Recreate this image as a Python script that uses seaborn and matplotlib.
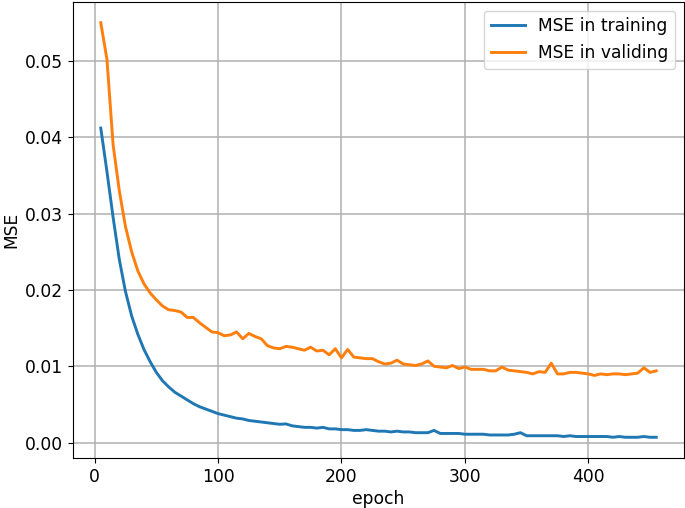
import numpy as np
import pandas as pd
import matplotlib
matplotlib.use("Agg")
import matplotlib.pyplot as plt
import seaborn as sns

plt.rcParams.update({
    "font.family": "DejaVu Sans",
    "font.size": 12.3,
    "axes.labelsize": 12.3,
    "xtick.labelsize": 12.3,
    "ytick.labelsize": 12.3,
    "legend.fontsize": 12.3,
})

EPOCHS = list(range(5, 460, 5))

MSE_TRAIN = [
    0.0412, 0.0355, 0.0295, 0.0240, 0.0198, 0.0166, 0.0142, 0.0122, 0.0106, 0.0092,
    0.0081, 0.0073, 0.0066, 0.0061, 0.0056, 0.0051, 0.0047, 0.0044, 0.0041, 0.0038,
    0.0036, 0.0034, 0.0032, 0.0031, 0.0029, 0.0028, 0.0027, 0.0026, 0.0025, 0.0024,
    0.00245, 0.0022, 0.0021, 0.0020, 0.0020, 0.0019, 0.0020, 0.0018, 0.0018, 0.0017,
    0.0017, 0.0016, 0.0016, 0.0017, 0.0016, 0.0015, 0.0015, 0.0014, 0.0015, 0.0014,
    0.0014, 0.0013, 0.0013, 0.0013, 0.0016, 0.0012, 0.0012, 0.0012, 0.0012, 0.0011,
    0.0011, 0.0011, 0.0011, 0.0010, 0.0010, 0.0010, 0.0010, 0.0011, 0.0013, 0.0009,
    0.0009, 0.0009, 0.0009, 0.0009, 0.0009, 0.0008, 0.0009, 0.0008, 0.0008, 0.0008,
    0.0008, 0.0008, 0.0008, 0.0007, 0.0008, 0.0007, 0.0007, 0.0007, 0.0008, 0.0007,
    0.0007,
]

MSE_VALID = [
    0.0550, 0.0502, 0.0390, 0.0330, 0.0283, 0.0250, 0.0225, 0.0208, 0.0196, 0.0187,
    0.0179, 0.0174, 0.0173, 0.0171, 0.0164, 0.0164, 0.0157, 0.0151, 0.0145, 0.0144,
    0.0140, 0.0141, 0.0145, 0.0136, 0.0143, 0.0139, 0.0136, 0.0127, 0.0124, 0.0123,
    0.0126, 0.0125, 0.0123, 0.0121, 0.0125, 0.0120, 0.0121, 0.0115, 0.0123, 0.0111,
    0.0122, 0.0112, 0.0111, 0.0110, 0.0110, 0.0106, 0.0103, 0.0104, 0.0108, 0.0103,
    0.0102, 0.0101, 0.0103, 0.0107, 0.0100, 0.0099, 0.0098, 0.0101, 0.0097, 0.0099,
    0.0096, 0.0096, 0.0096, 0.0094, 0.0094, 0.0099, 0.0095, 0.0094, 0.0093, 0.0092,
    0.0090, 0.0093, 0.0092, 0.0104, 0.0090, 0.0090, 0.0092, 0.0092, 0.0091, 0.0090,
    0.0088, 0.0090, 0.0089, 0.0090, 0.0090, 0.0089, 0.0090, 0.0091, 0.0098, 0.0092,
    0.0094,
]

SERIES = ["MSE in training", "MSE in validing"]

df = pd.concat([
    pd.DataFrame({"epoch": EPOCHS, "MSE": MSE_TRAIN, "series": SERIES[0]}),
    pd.DataFrame({"epoch": EPOCHS, "MSE": MSE_VALID, "series": SERIES[1]}),
])

fig, ax = plt.subplots(figsize=(6.85, 5.08), dpi=100)
fig.subplots_adjust(left=73/685, right=684/685, bottom=1-458/508, top=1-2/508)

sns.lineplot(data=df, x="epoch", y="MSE", hue="series", hue_order=SERIES,
             palette=["#1f77b4", "#ff7f0e"], lw=2.1, ax=ax)

ax.grid(True, color="#b0b0b0", lw=1.1)
ax.set_axisbelow(True)
ax.set_xlabel("epoch", labelpad=3)
ax.set_ylabel("MSE", labelpad=3)
ax.set_yticks([0.0, 0.01, 0.02, 0.03, 0.04, 0.05])
ax.set_yticklabels(["0.00", "0.01", "0.02", "0.03", "0.04", "0.05"])
ax.set_xticks([0, 100, 200, 300, 400])
ax.legend(title=None, loc="upper right")

plt.savefig("out.png", dpi=100)
